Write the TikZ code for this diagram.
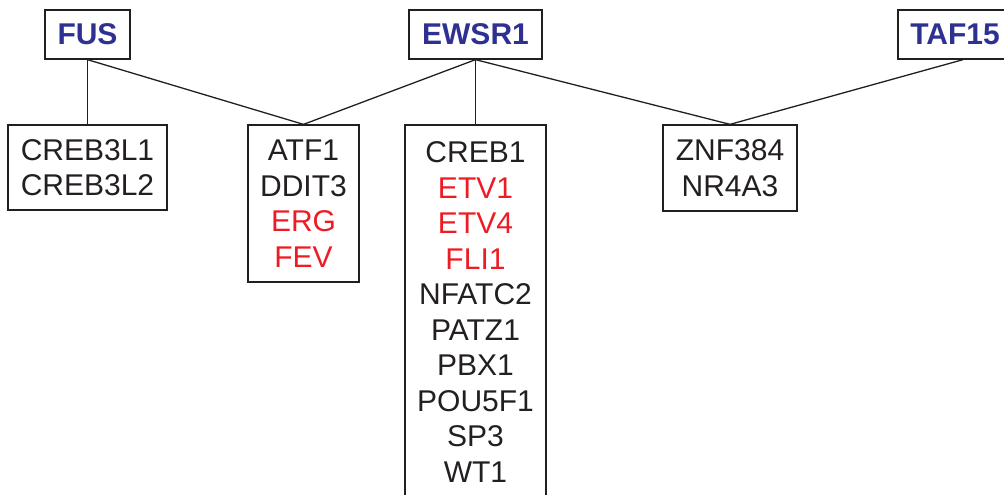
\documentclass[tikz,border=0pt]{standalone}
\usepackage{fontspec}
\setmainfont{Liberation Sans}
\usepackage{tikz}

\definecolor{fetblue}{HTML}{2E3192}
\definecolor{fetred}{HTML}{ED1C24}
\definecolor{ink}{HTML}{231F20}

\newcommand{\rd}[1]{\textcolor{fetred}{#1}}

\begin{document}
\begin{tikzpicture}[x=0.5pt,y=-0.5pt,
    every node/.style={font=\fontsize{15}{17.75}\selectfont, text=ink},
    gene/.style={draw=ink, line width=0.65pt, align=center, inner sep=0pt,
        minimum height=24.5pt, font=\fontsize{15}{17.75}\selectfont\bfseries,
        text=fetblue},
    partner/.style={draw=ink, line width=0.65pt, align=center, inner sep=0pt},
    link/.style={draw=ink, line width=0.65pt}]
    \useasboundingbox (0,0) rectangle (1004,494);

    % fusion genes on top
    \node[gene, minimum width=42.5pt] (fus)   at (87.5,34.5)  {FUS};
    \node[gene, minimum width=66.5pt] (ewsr1) at (475.5,34.5) {EWSR1};
    \node[gene, minimum width=57pt]   (taf15) at (955,34.5)   {TAF15};

    % partner genes
    \node[partner, minimum width=79.5pt, minimum height=42.5pt] (creb3l)
        at (87.5,167.5) {CREB3L1\\CREB3L2};
    \node[partner, minimum width=55.5pt, minimum height=78.5pt] (atf1)
        at (303.5,203.5) {ATF1\\DDIT3\\\rd{ERG}\\\rd{FEV}};
    \node[partner, minimum width=70.5pt, minimum height=187pt] (creb1)
        at (475.5,312) {CREB1\\\rd{ETV1}\\\rd{ETV4}\\\rd{FLI1}\\NFATC2\\PATZ1\\PBX1\\POU5F1\\SP3\\WT1};
    \node[partner, minimum width=67pt, minimum height=43pt] (znf384)
        at (730,168) {ZNF384\\NR4A3};

    % links
    \draw[link] (fus.south) -- (creb3l.north);
    \draw[link] (fus.south) -- (atf1.north);
    \draw[link] (ewsr1.south) -- (atf1.north);
    \draw[link] (ewsr1.south) -- (creb1.north);
    \draw[link] (ewsr1.south) -- (znf384.north);
    \draw[link] ([xshift=4pt]taf15.south) -- (znf384.north);
\end{tikzpicture}
\end{document}
